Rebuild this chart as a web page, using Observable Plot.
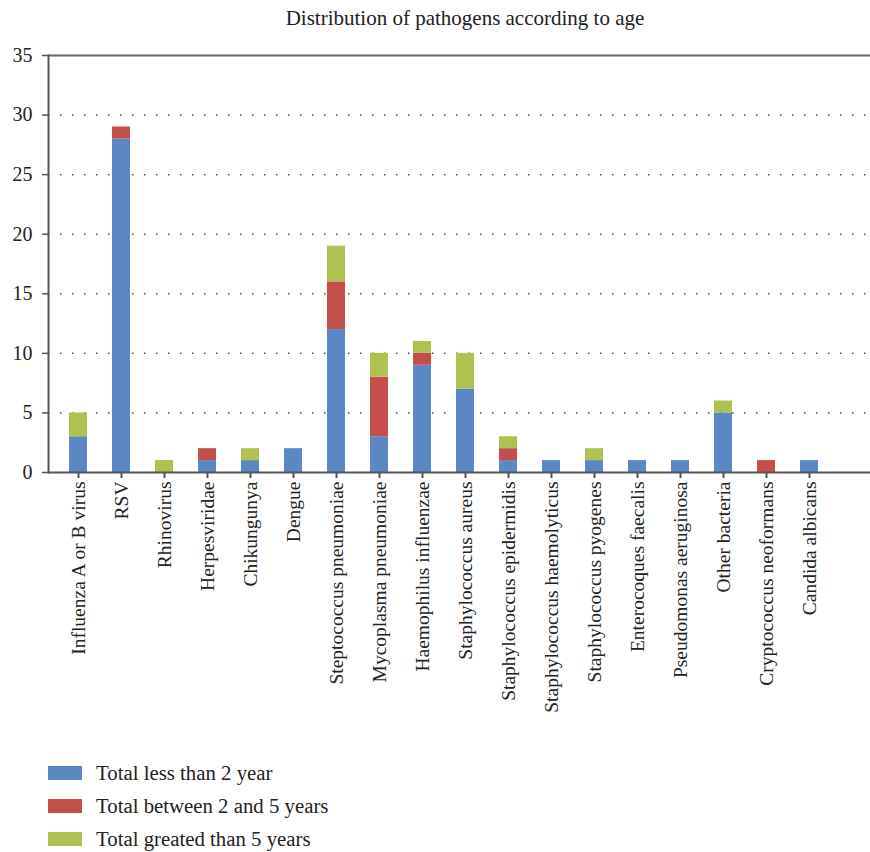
<!DOCTYPE html>
<html>
<head>
<meta charset="utf-8">
<script src="https://cdn.jsdelivr.net/npm/d3@7"></script>
<script src="https://cdn.jsdelivr.net/npm/@observablehq/plot@0.6"></script>
<style>
  body { margin: 0; background: #fff; font-family: "Liberation Serif", "DejaVu Serif", serif; color: #222; overflow: hidden; }
  #title { width: 810px; padding-left: 60px; height: 36px; line-height: 36px; text-align: center; font-size: 21px; }
  #legend { padding-left: 48px; }
  .item { display: flex; align-items: center; height: 33px; font-size: 20.8px; }
  .sw { width: 34px; height: 14px; margin-right: 14px; }
</style>
</head>
<body>
<div id="title">Distribution of pathogens according to age</div>
<div id="chart"></div>
<div id="legend"></div>
<script>
const categories = [
  "Influenza A or B virus", "RSV", "Rhinovirus", "Herpesviridae", "Chikungunya", "Dengue",
  "Steptococcus pneumoniae", "Mycoplasma pneumoniae", "Haemophilus influenzae", "Staphylococcus aureus",
  "Staphylococcus epidermidis", "Staphylococcus haemolyticus", "Staphylococcus pyogenes",
  "Enterocoques faecalis", "Pseudomonas aeruginosa", "Other bacteria", "Cryptococcus neoformans", "Candida albicans"
];
const seriesNames = ["Total less than 2 year", "Total between 2 and 5 years", "Total greated than 5 years"];
const lessThan2 =    [3, 28, 0, 1, 1, 2, 12, 3, 9, 7, 1, 1, 1, 1, 1, 5, 0, 1];
const between2and5 = [0, 1, 0, 1, 0, 0, 4, 5, 1, 0, 1, 0, 0, 0, 0, 0, 1, 0];
const greaterThan5 = [2, 0, 1, 0, 1, 0, 3, 2, 1, 3, 1, 0, 1, 0, 0, 1, 0, 0];
const colors = ["#5b88c3", "#c44f4a", "#aec151"];
const yTicks = [0, 5, 10, 15, 20, 25, 30, 35];
const gridTicks = [5, 10, 15, 20, 25, 30];

const seriesValues = [lessThan2, between2and5, greaterThan5];
const data = [];
seriesNames.forEach((s, si) => {
  categories.forEach((c, ci) => data.push({category: c, series: s, value: seriesValues[si][ci]}));
});

const chart = Plot.plot({
  width: 870,
  height: 720,
  marginLeft: 48,
  marginRight: 0,
  marginTop: 19,
  marginBottom: 284,
  style: {fontFamily: "Liberation Serif, DejaVu Serif, serif", fontSize: "19px", color: "#222", background: "#fff"},
  x: {domain: categories, range: [48, 839], paddingInner: 0.59, paddingOuter: 0.295, label: null},
  y: {domain: [0, 35], label: null},
  color: {domain: seriesNames, range: colors},
  marks: [
    Plot.ruleY(gridTicks, {stroke: "#333", strokeWidth: 1.5, strokeDasharray: "1.5,10.5", strokeOpacity: 0.85}),
    Plot.barY(data, {x: "category", y: "value", fill: "series", order: seriesNames}),
    Plot.ruleY([35], {stroke: "#666", strokeWidth: 2}),
    Plot.ruleY([0], {stroke: "#555", strokeWidth: 2}),
    Plot.frame({anchor: "left", stroke: "#555", strokeWidth: 2}),
    Plot.axisY({ticks: yTicks, tickSize: 6, tickPadding: 10, fontSize: 20, stroke: "#555", strokeWidth: 1.5, label: null}),
    Plot.axisX({tickSize: 6, tickPadding: 3, tickRotate: -90, fontSize: 19.5, stroke: "#555", strokeWidth: 2, label: null})
  ]
});
document.getElementById("chart").appendChild(chart);

const legend = document.getElementById("legend");
seriesNames.forEach((s, i) => {
  const item = document.createElement("div");
  item.className = "item";
  const sw = document.createElement("div");
  sw.className = "sw";
  sw.style.background = colors[i];
  const t = document.createElement("span");
  t.textContent = s;
  item.appendChild(sw);
  item.appendChild(t);
  legend.appendChild(item);
});
</script>
</body>
</html>
